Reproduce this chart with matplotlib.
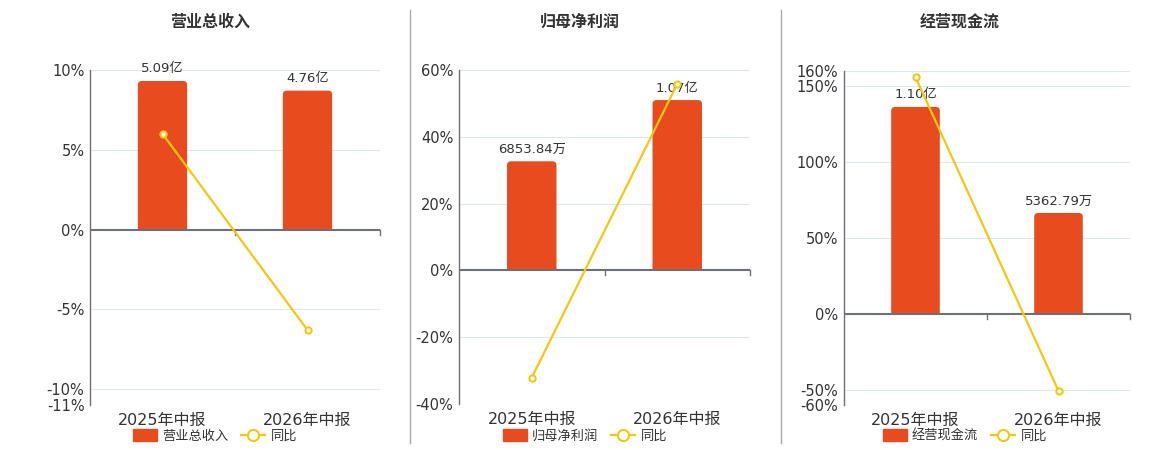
import numpy as np
import matplotlib
matplotlib.use("Agg")
import matplotlib.pyplot as plt
from matplotlib.patches import Patch, FancyBboxPatch, Rectangle
from matplotlib.lines import Line2D

plt.rcParams['font.family'] = ['DejaVu Sans', 'Noto Sans CJK SC']

CATEGORIES = ["2025年中报", "2026年中报"]
TITLES = ["营业总收入", "归母净利润", "经营现金流"]

# bar values in 亿
REVENUE = [5.09, 4.76]
PROFIT = [0.685384, 1.07]
CASHFLOW = [1.10, 0.536279]
BAR_LABELS = [["5.09亿", "4.76亿"], ["6853.84万", "1.07亿"], ["1.10亿", "5362.79万"]]

# year-over-year growth, %
REVENUE_YOY = [6.0, -6.3]
PROFIT_YOY = [-32.1, 55.8]
CASHFLOW_YOY = [156.0, -50.7]

PCT_TICKS = [[-11, -10, -5, 0, 5, 10],
             [-40, -20, 0, 20, 40, 60],
             [-60, -50, 0, 50, 100, 150, 160]]

BAR_C = "#e84c1e"
LINE_C = "#f2c811"
GRID_C = "#e0e6f1"
AXIS_C = "#6e7079"
TEXT_C = "#333333"

bars_all = [REVENUE, PROFIT, CASHFLOW]
yoy_all = [REVENUE_YOY, PROFIT_YOY, CASHFLOW_YOY]
bar_tops = [5.466, 1.259, 1.291]
rects = [[90, 380, 70, 405], [459, 750, 70, 404], [844, 1130, 71, 405]]
centers = [210, 580, 960]
BAR_W = 0.34

W, H = 1160, 450
fig = plt.figure(figsize=(W / 100, H / 100), dpi=100)

for i in range(3):
    l, r, t, b = rects[i]
    ax = fig.add_axes([l / W, 1 - b / H, (r - l) / W, (b - t) / H])
    axb = ax.twinx()
    ax.set_zorder(axb.get_zorder() + 1)
    ax.patch.set_visible(False)

    ticks = PCT_TICKS[i]
    lo, hi = ticks[0], ticks[-1]
    ax.set_ylim(lo, hi)
    ax.set_xlim(-0.5, 1.5)
    axb.set_xlim(-0.5, 1.5)
    top = bar_tops[i]
    blo = lo / hi * top
    axb.set_ylim(blo, top)

    # grid drawn on the bar axes so the bars sit above it
    for v in ticks:
        if v != 0:
            axb.axhline(v / hi * top, color=GRID_C, lw=0.8, zorder=0)

    # bars with rounded tops: rounded box starts below zero, clipped at zero
    px_x = (r - l) / 2.0
    px_y = (b - t) / (top - blo)
    aspect = px_x / px_y
    rad = 4.0 / px_x
    drop = 6.0 / px_y
    x = np.arange(len(CATEGORIES))
    for xi, v in zip(x, bars_all[i]):
        bar = FancyBboxPatch((xi - BAR_W / 2, -drop), BAR_W, v + drop,
                             boxstyle=f"round,pad=0,rounding_size={rad}",
                             mutation_aspect=aspect, fc=BAR_C, ec="none",
                             zorder=2)
        axb.add_patch(bar)
        clip = Rectangle((-0.5, 0), 2, top, transform=axb.transData)
        bar.set_clip_path(clip)
    for xi, v, lab in zip(x, bars_all[i], BAR_LABELS[i]):
        axb.annotate(lab, (xi, v), xytext=(0, 4), textcoords="offset points",
                     ha="center", va="bottom", fontsize=9.5, color=TEXT_C)
    axb.set_yticks([])
    for s in axb.spines.values():
        s.set_visible(False)

    ax.plot(x, yoy_all[i], color=LINE_C, lw=1.6, marker="o", ms=4.5,
            mfc="white", mec=LINE_C, mew=1.5, zorder=5)

    ax.set_yticks(ticks)
    ax.set_yticklabels([f"{v}%" for v in ticks], fontsize=10.5, color=TEXT_C)
    ax.tick_params(axis="y", length=0, pad=4)
    ax.axhline(0, color=AXIS_C, lw=1.5, zorder=3)
    # category boundary ticks on the zero line
    span = hi - lo
    for xb in [0.5, 1.5]:
        ax.plot([xb, xb], [0, -span * 0.015], color=AXIS_C, lw=1, zorder=3,
                clip_on=False)

    ax.set_xticks([])
    for c, xi in zip(CATEGORIES, x):
        ax.text(xi, lo - span * 0.045, c, ha="center", va="center",
                fontsize=11.5, color=TEXT_C)
    for k in ["top", "right", "bottom"]:
        ax.spines[k].set_visible(False)
    ax.spines["left"].set_color(AXIS_C)
    ax.spines["left"].set_linewidth(1)

    fig.text(centers[i] / W, 1 - 22 / H, TITLES[i], ha="center", va="center",
             fontsize=11.5, fontweight="bold", color=TEXT_C)

    handles = [Patch(facecolor=BAR_C, edgecolor=BAR_C),
               Line2D([], [], color=LINE_C, lw=1.6, marker="o", ms=8,
                      mfc="white", mec=LINE_C, mew=1.5)]
    fig.legend(handles, [TITLES[i], "同比"], loc="center",
               bbox_to_anchor=((centers[i] + 5) / W, 1 - 436 / H), ncol=2,
               frameon=False, fontsize=9.5, handlelength=1.8, handleheight=0.95,
               columnspacing=1.0, handletextpad=0.4, labelcolor=TEXT_C)

# separators between panels
for xs in [410, 781]:
    fig.add_artist(Line2D([xs / W, xs / W], [1 - 443 / H, 1 - 10 / H],
                          color="#aaaaaa", lw=1))

fig.savefig("out.png", dpi=100)
